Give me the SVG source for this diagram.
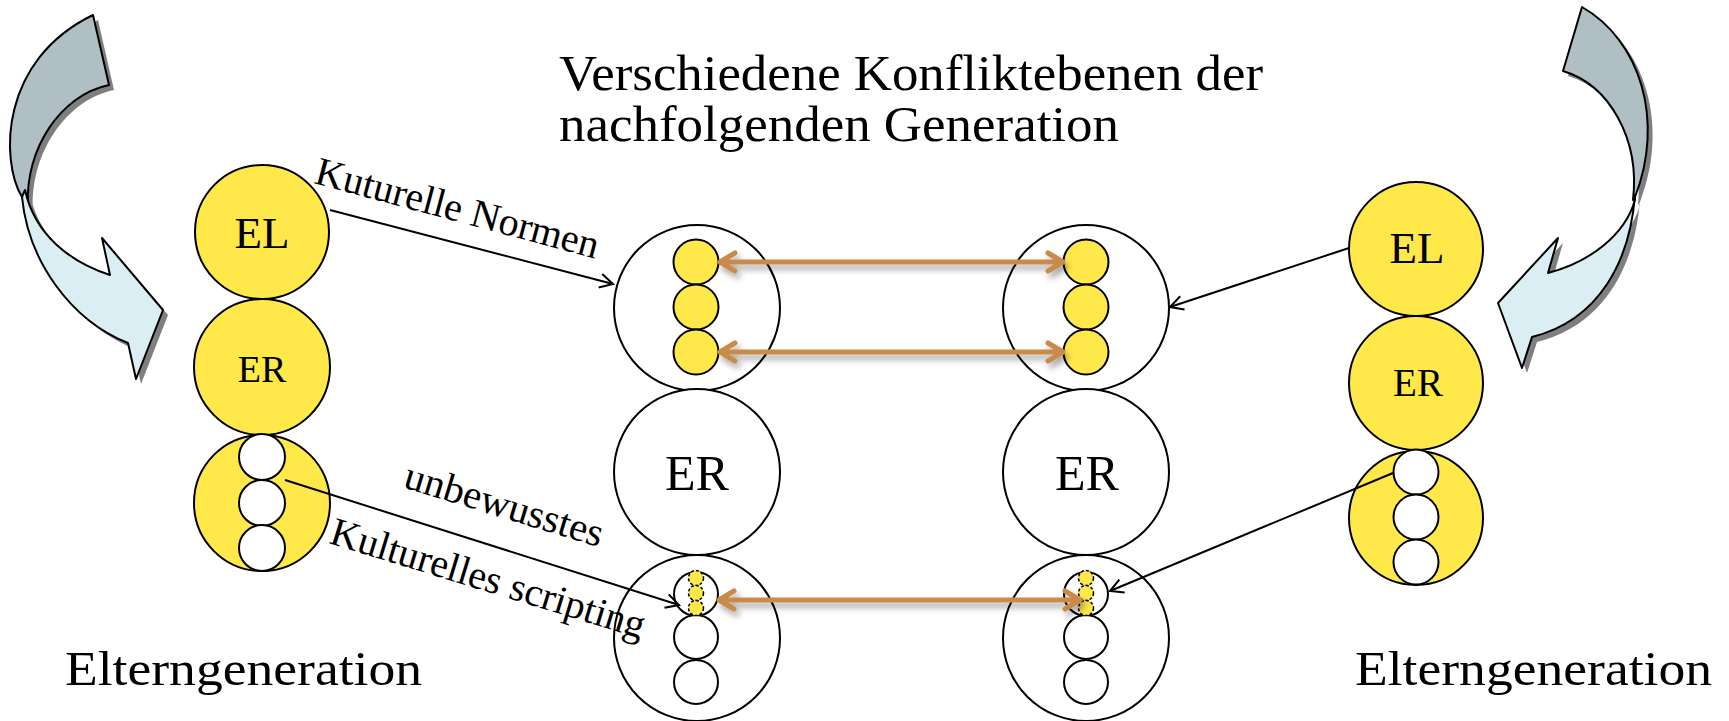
<svg xmlns="http://www.w3.org/2000/svg" width="1729" height="721" viewBox="0 0 1729 721">
<style>
text{font-family:"Liberation Serif","DejaVu Serif",serif;fill:#000}
.y{fill:#FFE84A;stroke:#000;stroke-width:2}
.w{fill:#fff;stroke:#000;stroke-width:2}
.d{fill:#FFE84A;stroke:#000;stroke-width:1.5;stroke-dasharray:3 2}
.ln{fill:none;stroke:#000;stroke-width:2}
.or{fill:none;stroke:#C98B4B;stroke-width:5;stroke-linecap:round;stroke-linejoin:round}
.sh{fill:#7f7f7f}
.g{fill:#B0BFC4;stroke:#000;stroke-width:2;stroke-linejoin:round}
.b{fill:#DBEEF3;stroke:#000;stroke-width:2;stroke-linejoin:round}
</style>
<defs>
<marker id="ah" markerWidth="16" markerHeight="16" refX="14" refY="8" orient="auto" markerUnits="userSpaceOnUse">
<path d="M1,1 L14,8 L1,15" fill="none" stroke="#000" stroke-width="2"/>
</marker>
<filter id="ds" x="-10%" y="-50%" width="120%" height="300%">
<feDropShadow dx="3" dy="5" stdDeviation="3" flood-color="#000" flood-opacity="0.35"/>
</filter>
</defs>

<g id="curved-arrow-left">
<g transform="translate(5,5)">
<path class="sh" d="M93,15 L109,85 C60,95 25,150 28,205 L22,197 C0,160 0,60 93,15 Z"/>
<path class="sh" d="M22,197 C28,260 70,320 128,343 L136,379 L163,310 L102,238 L110,275 C70,262 35,235 25,190 Z"/>
</g>
<path class="g" d="M93,15 L109,85 C60,95 25,150 28,205 L22,197 C0,160 0,60 93,15 Z"/>
<path class="b" d="M22,197 C28,260 70,320 128,343 L136,379 L163,310 L102,238 L110,275 C70,262 35,235 25,190 Z"/>
</g>

<g id="curved-arrow-right">
<g transform="translate(5,5)">
<path class="sh" d="M1582,7 L1563,71 C1610,85 1640,140 1633,200 L1635,197 C1665,120 1640,40 1582,7 Z"/>
<path class="sh" d="M1635,195 C1630,260 1600,320 1532,337 L1522,368 L1498,303 L1558,238 L1548,273 C1590,262 1625,235 1635,200 Z"/>
</g>
<path class="g" d="M1582,7 L1563,71 C1610,85 1640,140 1633,200 L1635,197 C1665,120 1640,40 1582,7 Z"/>
<path class="b" d="M1635,195 C1630,260 1600,320 1532,337 L1522,368 L1498,303 L1558,238 L1548,273 C1590,262 1625,235 1635,200 Z"/>
</g>

<g id="title">
<text x="559" y="90" font-size="50" textLength="704" lengthAdjust="spacingAndGlyphs">Verschiedene Konfliktebenen der</text>
<text x="559" y="141" font-size="50" textLength="560" lengthAdjust="spacingAndGlyphs">nachfolgenden Generation</text>
</g>

<g id="left-EL"><circle class="y" cx="262" cy="232" r="67"/><text x="262" y="248" font-size="45" text-anchor="middle">EL</text></g>
<g id="left-ER"><circle class="y" cx="262" cy="367" r="68"/><text x="262" y="382" font-size="38" text-anchor="middle">ER</text></g>
<g id="left-script"><circle class="y" cx="262" cy="503" r="68"/>
<circle class="w" cx="262" cy="457" r="23"/><circle class="w" cx="262" cy="503" r="23"/><circle class="w" cx="262" cy="548" r="23"/></g>

<g id="right-EL"><circle class="y" cx="1416" cy="249" r="67"/><text x="1417" y="263" font-size="45" text-anchor="middle">EL</text></g>
<g id="right-ER"><circle class="y" cx="1416" cy="383" r="67"/><text x="1418" y="396" font-size="39" text-anchor="middle">ER</text></g>
<g id="right-script"><circle class="y" cx="1416" cy="518" r="67"/>
<circle class="w" cx="1416" cy="472" r="22.5"/><circle class="w" cx="1416" cy="517" r="22.5"/><circle class="w" cx="1416" cy="562" r="22.5"/></g>

<g id="mid-left-top"><circle class="w" cx="697" cy="308" r="83"/>
<circle class="y" cx="696" cy="262" r="22.5"/><circle class="y" cx="696" cy="307" r="22.5"/><circle class="y" cx="696" cy="352" r="22.5"/></g>
<g id="mid-right-top"><circle class="w" cx="1086" cy="308" r="83"/>
<circle class="y" cx="1086" cy="262" r="22.5"/><circle class="y" cx="1086" cy="307" r="22.5"/><circle class="y" cx="1086" cy="352" r="22.5"/></g>
<g id="mid-left-ER"><circle class="w" cx="697" cy="472" r="83"/><text x="697" y="490" font-size="50" text-anchor="middle">ER</text></g>
<g id="mid-right-ER"><circle class="w" cx="1086" cy="472" r="83"/><text x="1087" y="490" font-size="50" text-anchor="middle">ER</text></g>
<g id="mid-left-bottom"><circle class="w" cx="697" cy="638" r="83"/>
<circle class="w" cx="696" cy="594" r="22"/><circle class="w" cx="696" cy="637" r="22"/><circle class="w" cx="696" cy="682" r="22"/>
<circle class="d" cx="696" cy="578" r="7.5"/><circle class="d" cx="696" cy="593" r="7.5"/><circle class="d" cx="696" cy="608" r="7.5"/></g>
<g id="mid-right-bottom"><circle class="w" cx="1086" cy="638" r="83"/>
<circle class="w" cx="1086" cy="594" r="22"/><circle class="w" cx="1086" cy="637" r="22"/><circle class="w" cx="1086" cy="682" r="22"/>
<circle class="d" cx="1086" cy="578" r="7.5"/><circle class="d" cx="1086" cy="593" r="7.5"/><circle class="d" cx="1086" cy="608" r="7.5"/></g>

<g id="connectors">
<line class="ln" x1="330" y1="210" x2="613" y2="284" marker-end="url(#ah)"/>
<line class="ln" x1="1349" y1="248" x2="1170" y2="307" marker-end="url(#ah)"/>
<line class="ln" x1="285" y1="480" x2="679" y2="605" marker-end="url(#ah)"/>
<line class="ln" x1="1393" y1="473" x2="1110" y2="591" marker-end="url(#ah)"/>
<g filter="url(#ds)">
<path class="or" d="M720,262 L1063,262 M735,253 L720,262 L735,271 M1048,253 L1063,262 L1048,271"/>
<path class="or" d="M720,352 L1063,352 M735,343 L720,352 L735,361 M1048,343 L1063,352 L1048,361"/>
<path class="or" d="M719,600 L1080,600 M734,591 L719,600 L734,609 M1065,591 L1080,600 L1065,609"/>
</g>
</g>

<g id="labels">
<text transform="translate(313,183) rotate(15)" font-size="40" textLength="292" lengthAdjust="spacingAndGlyphs">Kuturelle Normen</text>
<text transform="translate(402,487) rotate(17)" font-size="40" textLength="206" lengthAdjust="spacingAndGlyphs">unbewusstes</text>
<text transform="translate(328,543) rotate(17)" font-size="40" textLength="327" lengthAdjust="spacingAndGlyphs">Kulturelles scripting</text>
<text x="65" y="685" font-size="49" textLength="357" lengthAdjust="spacingAndGlyphs">Elterngeneration</text>
<text x="1355" y="685" font-size="49" textLength="357" lengthAdjust="spacingAndGlyphs">Elterngeneration</text>
</g>
</svg>
